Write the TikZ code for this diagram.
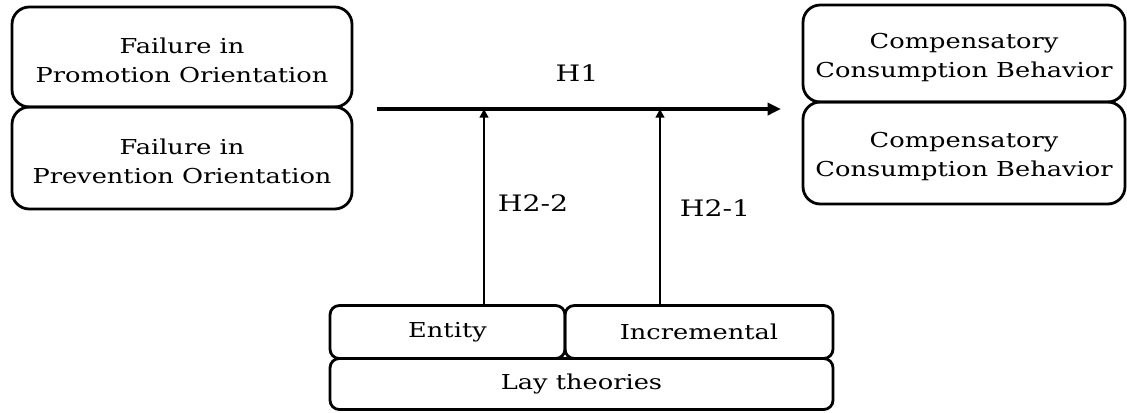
\documentclass[tikz,border=0pt]{standalone}
\usepackage{fontspec}
\setmainfont{DejaVu Serif}[FakeStretch=1.25]
\usetikzlibrary{arrows.meta}
\newcommand{\topstrut}{\rule{0pt}{17pt}}
\begin{document}
\begin{tikzpicture}[x=0.75pt,y=-0.75pt,
  box/.style={draw, line width=2.1pt, rounded corners=13pt, align=center, inner sep=0pt, font=\fontsize{15.4}{22}\selectfont},
  smallbox/.style={box, rounded corners=7pt},
  lbl/.style={font=\fontsize{17}{20}\selectfont, inner sep=0pt},
  arr/.style={line width=3pt, -{Triangle[length=10pt,width=9pt]}},
  varr/.style={line width=2pt, -{Triangle[length=6.5pt,width=6.5pt]}}]
\useasboundingbox (0,0) rectangle (1127,412);
\node[box, minimum width=255pt, minimum height=75pt] (prom) at (182,57) {\topstrut Failure in\\Promotion Orientation};
\node[box, minimum width=255pt, minimum height=76.5pt] (prev) at (182,158) {\topstrut Failure in\\Prevention Orientation};
\node[box, minimum width=241.5pt, minimum height=72.75pt] (ccb1) at (964,53.5) {\topstrut Compensatory\\Consumption Behavior};
\node[box, minimum width=241.5pt, minimum height=76.5pt] (ccb2) at (964,153) {\topstrut Compensatory\\Consumption Behavior};
\node[smallbox, minimum width=176.25pt, minimum height=39.75pt] (entity) at (447.5,332) {Entity};
\node[smallbox, minimum width=201pt, minimum height=39.75pt] (incr) at (699,332) {Incremental};
\node[smallbox, minimum width=377.25pt, minimum height=38.25pt] (lay) at (581.5,384) {Lay theories};
\coordinate (h1s) at (377,109);
\coordinate (h1e) at (781,109);
\coordinate (v2) at (484,109);
\coordinate (v1) at (660,109);
\draw[arr] (h1s) -- (h1e);
\draw[varr] (entity.north -| v2) -- (v2);
\draw[varr] (incr.north -| v1) -- (v1);
\node[lbl] (lh1) at (577,73) {H1};
\node[lbl] (lh22) at (533,203) {H2-2};
\node[lbl] (lh21) at (715,208) {H2-1};
\end{tikzpicture}
\end{document}
